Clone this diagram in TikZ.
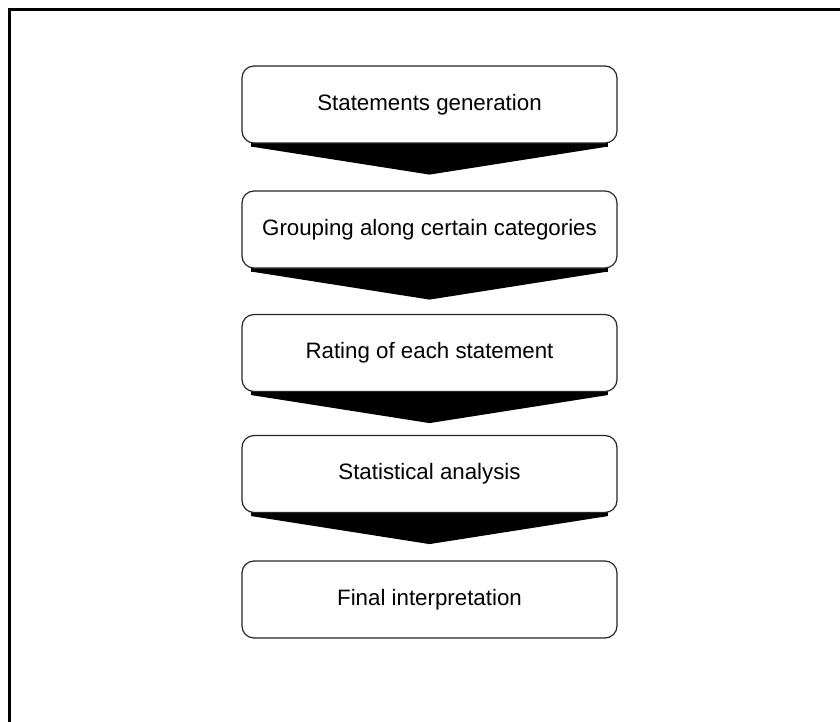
\documentclass[tikz,border=0pt]{standalone}
\usepackage{fontspec}
\setmainfont{Liberation Sans}
\usetikzlibrary{calc,backgrounds}
\tikzset{
  stagebox/.style={draw=black!85, line width=1.2pt, fill=white, rounded corners=12pt,
    minimum width=375pt, minimum height=77pt, inner sep=0pt,
    font=\fontsize{22.3}{26}\selectfont},
  chevron/.style={fill=black, draw=none},
  frameline/.style={line width=3pt, draw=black}
}
\begin{document}
\begin{tikzpicture}[x=1pt,y=-1pt]
  \useasboundingbox (0,0) rectangle (840,722);
  \begin{scope}
    \clip (0,0) rectangle (840,722);
    \draw[frameline] (9,10) rectangle (860,740);
  \end{scope}

  \node[stagebox] (s1) at (429.5,104.5) {Statements generation};
  \node[stagebox] (s2) at (429.5,229.5) {Grouping along certain categories};
  \node[stagebox] (s3) at (429.5,353) {Rating of each statement};
  \node[stagebox] (s4) at (429.5,474) {Statistical analysis};
  \node[stagebox] (s5) at (429.5,599.5) {Final interpretation};

  % black chevrons leading from each stage to the next
  \begin{scope}[on background layer]
    \foreach \a/\b in {s1/s2,s2/s3,s3/s4,s4/s5}{
      \coordinate (\a-tip) at ($(\a.south)+(0,31)$);
      \fill[chevron] ($(\a.south west)+(10,3)$) -- ($(\a.south east)+(-10,3)$)
        -- (\a-tip) -- cycle;
      \fill[chevron] ($(\a.south west)+(10,-2)$) rectangle ($(\a.south east)+(-10,3)$);
    }
  \end{scope}
\end{tikzpicture}
\end{document}
